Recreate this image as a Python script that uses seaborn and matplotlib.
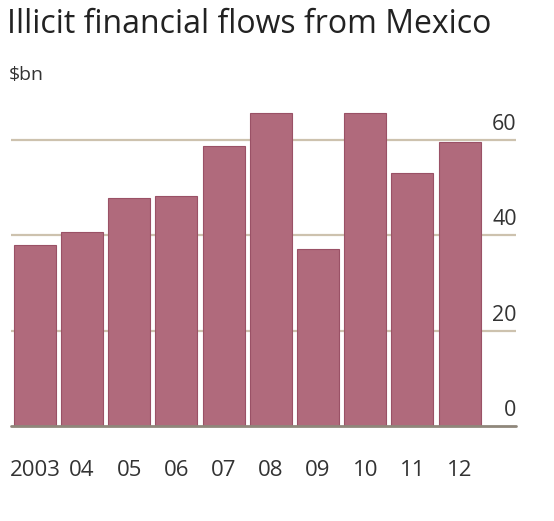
import pandas as pd
import matplotlib.pyplot as plt
import seaborn as sns

# Data ($bn)
years = ['2003', '04', '05', '06', '07', '08', '09', '10', '11', '12']
flows = [38.0, 40.7, 47.8, 48.1, 58.7, 65.6, 37.1, 65.6, 53.0, 59.6]
yticks = [0, 20, 40, 60]

df = pd.DataFrame({'year': years, 'flows': flows})

sns.set_style("white")
plt.rcParams['font.family'] = ['Open Sans', 'DejaVu Sans']

fig = plt.figure(figsize=(5.54, 5.21), dpi=100)
ax = fig.add_axes([0.019, 0.182, 0.912, 0.616])

# gridlines behind the bars
for t in yticks[1:]:
    ax.axhline(t, color='#cdc2ae', lw=1.6, zorder=0)
ax.axhline(0, color='#8f877b', lw=2.0, zorder=3, clip_on=False)

sns.barplot(data=df, x='year', y='flows', color='#b06a7c', saturation=1,
            width=0.89, edgecolor='#9a5166', linewidth=0.8, ax=ax, zorder=2)

ax.set_xlim(-0.515, 10.19)
ax.set_ylim(0, 67.2)
ax.set_xlabel('')
ax.set_ylabel('')
ax.set_yticks([])
for s in ax.spines.values():
    s.set_visible(False)

# right-hand value labels sitting above each gridline
for t in yticks:
    ax.text(10.21, t + 1.0, str(t), ha='right', va='bottom', fontsize=15.5,
            color='#333333')

ax.tick_params(axis='x', length=0, pad=24, labelsize=16, labelcolor='#333333')

fig.text(0.012, 0.985, 'Illicit financial flows from Mexico', fontsize=23,
         ha='left', va='top', color='#222222')
fig.text(0.016, 0.873, '$bn', fontsize=14, ha='left', va='top', color='#333333')

plt.savefig('out.png', dpi=100)
